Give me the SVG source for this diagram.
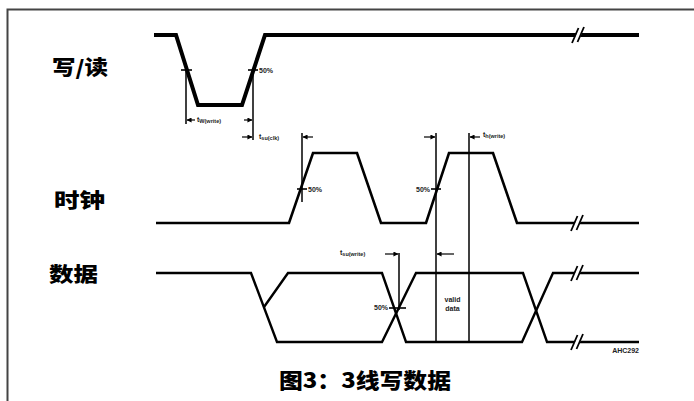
<svg xmlns="http://www.w3.org/2000/svg" width="694" height="401" viewBox="0 0 694 401">
<style>
.sig{fill:none;stroke:#000;stroke-linejoin:miter;}
.wr{stroke-width:4;}
.clk{stroke-width:2.6;}
.dat{stroke-width:2.4;}
.ref{stroke:#000;stroke-width:1.5;fill:none;}
.tick{stroke:#000;stroke-width:1.6;}
.lbl{font-family:"Noto Sans CJK SC","Noto Sans CJK JP",sans-serif;font-weight:900;fill:#000;}
.sm{font-family:"Liberation Sans",Arial,sans-serif;font-size:7px;font-weight:bold;fill:#222;}
.sub{font-size:5.5px;}
.arr{stroke:#000;stroke-width:1.2;fill:none;marker-end:url(#ah);}
</style>
<defs>
<marker id="ah" viewBox="0 0 6 6" refX="5.5" refY="3" markerWidth="5" markerHeight="5" orient="auto" markerUnits="userSpaceOnUse">
<path d="M0,0 L6,3 L0,6 z" fill="#000"/>
</marker>
<g id="brk">
<polygon points="-5,7 1,-7 6,-7 0,7" fill="#fff"/>
<line x1="-6" y1="8" x2="0.5" y2="-7" stroke="#000" stroke-width="1.8"/>
<line x1="-0.5" y1="7" x2="6" y2="-8" stroke="#000" stroke-width="1.8"/>
</g>
</defs>
<rect width="694" height="401" fill="#fff"/>
<g id="frame">
<path d="M7.5,401 V9.5 H694" fill="none" stroke="#444" stroke-width="2"/>
</g>
<g id="labels">
<text class="lbl" x="52" y="75" font-size="20" textLength="56" lengthAdjust="spacingAndGlyphs">写/读</text>
<text class="lbl" x="54" y="208" font-size="20" textLength="51" lengthAdjust="spacingAndGlyphs">时钟</text>
<text class="lbl" x="49" y="282" font-size="20" textLength="49" lengthAdjust="spacingAndGlyphs">数据</text>
<text class="lbl" x="279" y="388" font-size="21" textLength="172" lengthAdjust="spacingAndGlyphs">图3：3线写数据</text>
</g>
<g id="sig-wr">
<polyline class="sig wr" points="154,35 176,35 198,105 242,105 265,35 639,35"/>
<use href="#brk" x="578" y="35"/>
</g>
<g id="sig-clk">
<polyline class="sig clk" points="156,223 289,223 313,153 357,153 381,223 426,223 449,153 493,153 517,223 639,223"/>
<use href="#brk" x="577" y="223"/>
</g>
<g id="sig-data">
<polyline class="sig dat" points="156,273 251,273 277,342 382,342 416,273 523,273 547,342 639,342"/>
<polyline class="sig dat" points="264,307 288,273 382,273 406,342 522,342 553,273 639,273"/>
<use href="#brk" x="577" y="273"/>
<use href="#brk" x="577" y="342"/>
</g>
<g id="connectors">
<line class="ref" x1="186" y1="70" x2="186" y2="124"/>
<line class="ref" x1="253" y1="70" x2="253" y2="140"/>
<line class="ref" x1="302" y1="133" x2="302" y2="202"/>
<line class="ref" x1="436" y1="133" x2="436" y2="342"/>
<line class="ref" x1="469" y1="133" x2="469" y2="342"/>
<line class="ref" x1="399" y1="253" x2="399" y2="310"/>
<line class="tick" x1="181" y1="70" x2="192" y2="70"/>
<line class="tick" x1="248" y1="70" x2="258" y2="70"/>
<line class="tick" x1="297" y1="189" x2="307" y2="189"/>
<line class="tick" x1="431" y1="189" x2="441" y2="189"/>
<line class="tick" x1="389" y1="308" x2="406" y2="308"/>
<path class="arr" d="M195,120 H187"/>
<path class="arr" d="M244,120 H252"/>
<path class="arr" d="M242,137 H252"/>
<path class="arr" d="M313,137 H303"/>
<path class="arr" d="M424,137 H435"/>
<path class="arr" d="M480,137 H470"/>
<path class="arr" d="M385,254 H398"/>
<path class="arr" d="M454,254 H437"/>
</g>
<g id="annotations">
<text class="sm" x="259" y="73">50%</text>
<text class="sm" x="308" y="192">50%</text>
<text class="sm" x="430" y="192" text-anchor="end">50%</text>
<text class="sm" x="388" y="310" text-anchor="end">50%</text>
<text class="sm" x="197" y="122">t<tspan class="sub" dy="1">W(write)</tspan></text>
<text class="sm" x="259" y="139">t<tspan class="sub" dy="1">su(clk)</tspan></text>
<text class="sm" x="483" y="137">t<tspan class="sub" dy="1">h(write)</tspan></text>
<text class="sm" x="340" y="255">t<tspan class="sub" dy="1">su(write)</tspan></text>
<text class="sm" x="452.5" y="302" text-anchor="middle" font-size="6.5">valid</text>
<text class="sm" x="452.5" y="311" text-anchor="middle" font-size="6.5">data</text>
<text class="sm" x="639" y="353" text-anchor="end" font-size="5">AHC292</text>
</g>
</svg>
